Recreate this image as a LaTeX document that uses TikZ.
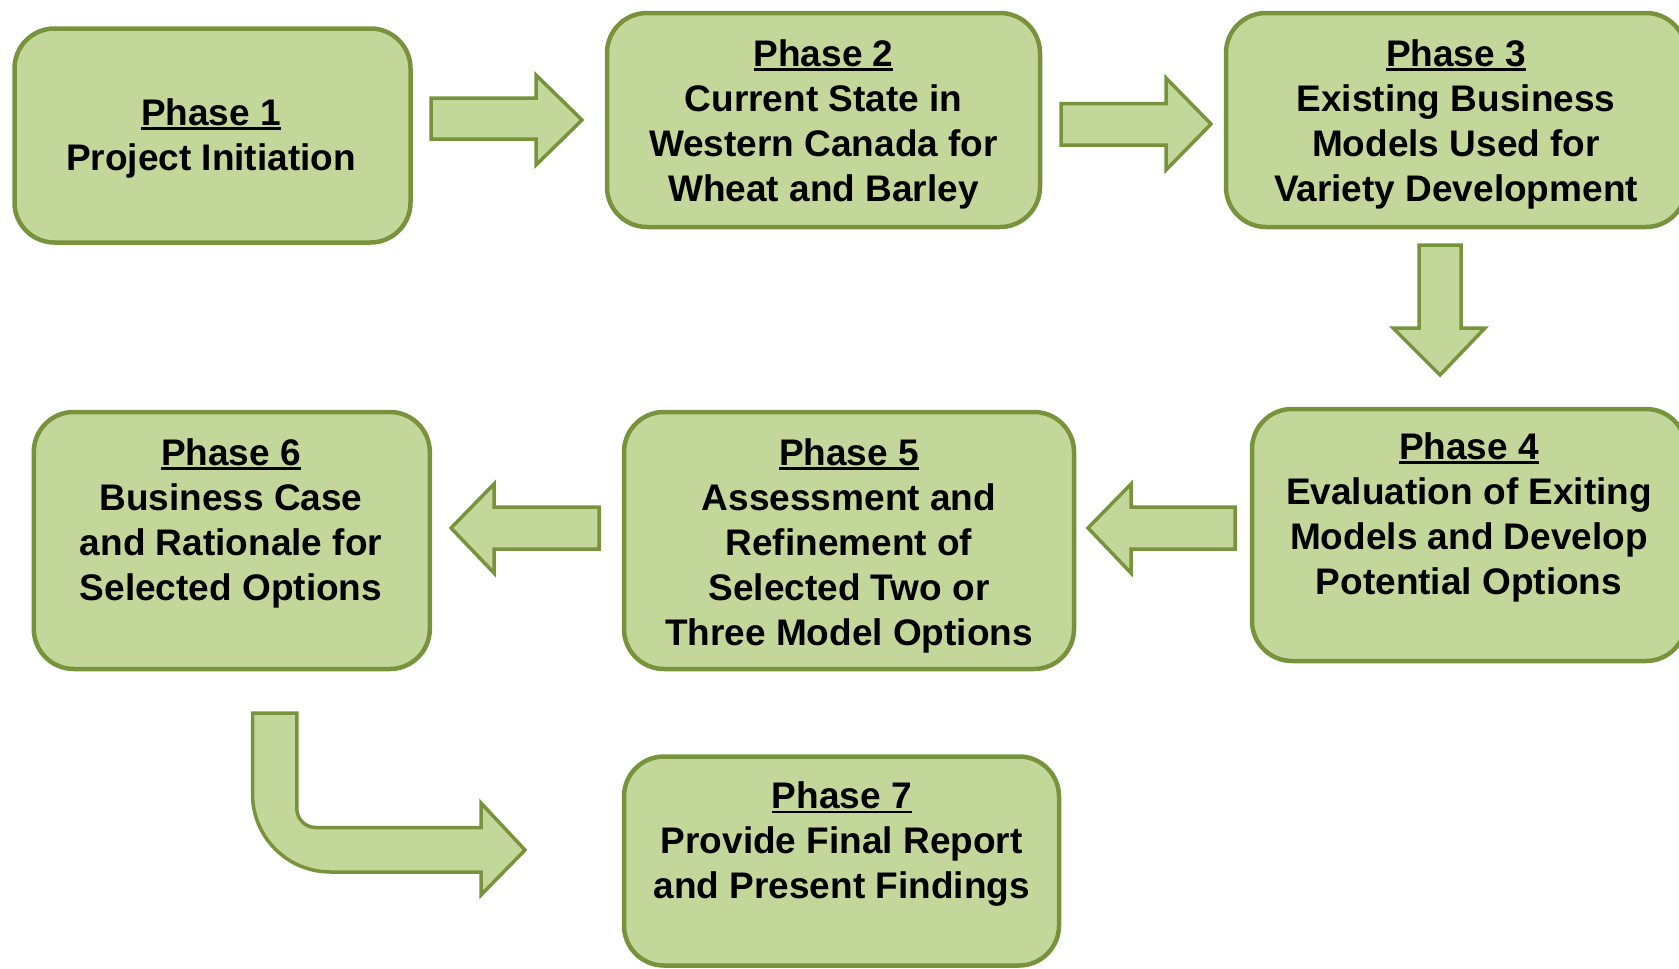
\documentclass[tikz,border=0pt]{standalone}
\usepackage{fontspec}
\setmainfont{Liberation Sans}
\definecolor{boxfill}{HTML}{C4D79B}
\definecolor{boxline}{HTML}{77933C}
\newcommand\phul[1]{\leavevmode\setbox0\hbox{#1}\rlap{\rule[-4.5pt]{\wd0}{2.6pt}}\box0}
\newcommand\btext[1]{\parbox[t]{520pt}{\centering\fontsize{37}{45}\selectfont\bfseries #1}}
\begin{document}
\begin{tikzpicture}[x=1pt,y=-1pt,
  phase/.style={draw=boxline, fill=boxfill, line width=4.5pt, rounded corners=40pt, rectangle, inner sep=0pt},
  ptext/.style={anchor=base, inner sep=0pt},
  blockarrow/.style={draw=boxline, fill=boxfill, line width=3.5pt, line join=miter}]
\useasboundingbox (0,0) rectangle (1679,969);
\begin{scope}
\clip (0,0) rectangle (1679,969);
% boxes
\node[phase, minimum width=396pt, minimum height=214pt] (p1) at (212.5,135.5) {};
\node[phase, minimum width=433pt, minimum height=214pt] (p2) at (823.5,120) {};
\node[phase, minimum width=460pt, minimum height=214pt] (p3) at (1456,120) {};
\node[phase, minimum width=434pt, minimum height=252pt] (p4) at (1469,535) {};
\node[phase, minimum width=450pt, minimum height=257pt] (p5) at (849,540.5) {};
\node[phase, minimum width=396pt, minimum height=257pt] (p6) at (231.8,540.5) {};
\node[phase, minimum width=435pt, minimum height=209pt] (p7) at (841.5,861) {};
% texts
\node[ptext] (t1) at (211,125.5) {\btext{\phul{Phase 1}\\Project Initiation}};
\node[ptext] (t2) at (823.5,66.5) {\btext{\phul{Phase 2}\\Current State in\\Western Canada for\\Wheat and Barley}};
\node[ptext] (t3) at (1456,66.5) {\btext{\phul{Phase 3}\\Existing Business\\Models Used for\\Variety Development}};
\node[ptext] (t4) at (1469,459.5) {\btext{\phul{Phase 4}\\Evaluation of Exiting\\Models and Develop\\Potential Options}};
\node[ptext] (t5) at (849,465) {\btext{\phul{Phase 5}\\Assessment and\\Refinement of\\Selected Two or\\Three Model Options}};
\node[ptext] (t6) at (231,465) {\btext{\phul{Phase 6}\\Business Case\\and Rationale for\\Selected Options}};
\node[ptext] (t7) at (841.7,808.6) {\btext{\phul{Phase 7}\\Provide Final Report\\and Present Findings}};
\end{scope}
% block arrows
\draw[blockarrow] (431,98) -- (536,98) -- (536,75) -- (582,120) -- (536,165) -- (536,139) -- (431,139) -- cycle;
\draw[blockarrow] (1061,103.5) -- (1166,103.5) -- (1166,78) -- (1211,124) -- (1166,170) -- (1166,145) -- (1061,145) -- cycle;
\draw[blockarrow] (1419,245) -- (1461,245) -- (1461,328) -- (1485,328) -- (1440,375) -- (1393,328) -- (1419,328) -- cycle;
\draw[blockarrow] (1235,507) -- (1131,507) -- (1131,484) -- (1088,528) -- (1131,573) -- (1131,549) -- (1235,549) -- cycle;
\draw[blockarrow] (599,507) -- (494,507) -- (494,484) -- (451,528) -- (494,573) -- (494,549) -- (599,549) -- cycle;
% bent arrow
\draw[blockarrow] (252.5,713) -- (296.8,713) -- (296.8,808.5)
  .. controls (296.8,819) and (305.3,827.5) .. (315.8,827.5) -- (481,827.5) -- (481,803)
  -- (525,850) -- (481,895) -- (481,872) -- (330.5,872)
  .. controls (287.4,872) and (252.5,837.1) .. (252.5,794) -- cycle;
\end{tikzpicture}
\end{document}
